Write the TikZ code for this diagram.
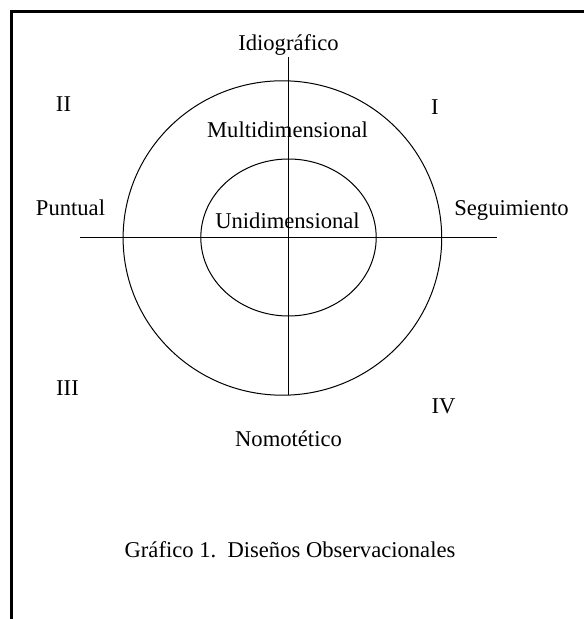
\documentclass[tikz,border=0pt]{standalone}
\usepackage{fontspec}
\setmainfont{Liberation Serif}
\usepackage{tikz}
\usetikzlibrary{positioning}

\begin{document}
\begin{tikzpicture}[x=0.5pt,y=-0.5pt,font=\fontsize{11.3}{14}\selectfont,
  lbl/.style={anchor=base,inner sep=0pt}]
\useasboundingbox (0,0) rectangle (583,619);
% frame (top and left edges)
\draw[line width=1.6pt] (11.5,640) -- (11.5,11.5) -- (600,11.5);
% axes
\coordinate (c) at (288.5,237.5);
\coordinate (co) at (282.4,238);
\coordinate (ytop) at (288.5,57);
\coordinate (ybot) at (288.5,395);
\coordinate (xl) at (80,237.5);
\coordinate (xr) at (497,237.5);
\draw[line width=0.5pt] (ytop) -- (ybot);
\draw[line width=0.5pt] (xl) -- (xr);
% circles
\draw[line width=0.5pt] (co) ellipse [x radius=159.3,y radius=157.2];
\draw[line width=0.5pt] (c) ellipse [x radius=87.7,y radius=78.5];
% labels
\node[lbl] (idio) at (288.5,51) {Idiográfico};
\node[lbl] (nomo) at (288.5,446) {Nomotético};
\node[lbl] (punt) at (70.5,216) {Puntual};
\node[lbl] (segu) at (511.5,216) {Seguimiento};
\node[lbl] (multi) at (287.5,138) {Multidimensional};
\node[lbl] (uni) at (287.5,229) {Unidimensional};
\node[lbl] (q1) at (435,115) {I};
\node[lbl] (q2) at (63.5,112) {II};
\node[lbl] (q3) at (67.5,395) {III};
\node[lbl] (q4) at (443.5,413) {IV};
\node[lbl] (cap) at (290,557) {Gráfico 1.\ \ Diseños Observacionales};
\end{tikzpicture}
\end{document}
